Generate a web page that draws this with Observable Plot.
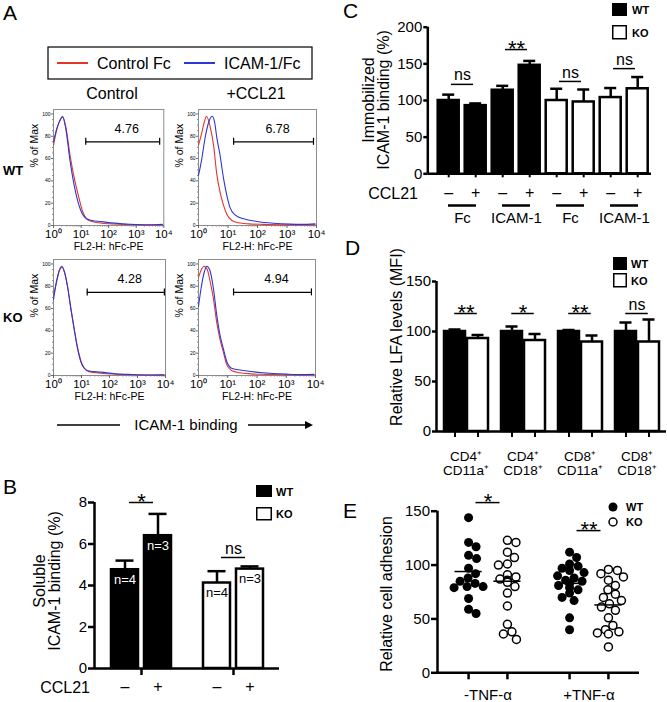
<!DOCTYPE html>
<html>
<head>
<meta charset="utf-8">
<script src="https://cdn.jsdelivr.net/npm/d3@7"></script>
<script src="https://cdn.jsdelivr.net/npm/@observablehq/plot@0.6"></script>
<style>
  html, body { margin: 0; padding: 0; background: #fff; }
  #fig { position: relative; width: 667px; height: 702px; overflow: hidden; background: #fff;
         font-family: "Liberation Sans", Arial, Helvetica, sans-serif; }
</style>
</head>
<body>
<div id="fig"></div>
<script>
// ================= DATA =================
// Panel A: flow histograms, pairs of [decade = log10(FL2-H), % of Max]
const wtControlRed  = [[0,72],[0.12,86],[0.25,95],[0.33,97],[0.45,88],[0.6,63],[0.75,43],[0.9,27],[1.05,13],[1.2,6],[1.4,3.5],[1.7,2.2],[2.0,1.5],[2.5,1],[3.0,0.6],[3.5,0.4],[3.95,0.6]];
const wtControlBlue = [[0,75],[0.12,87],[0.25,95],[0.33,98],[0.45,86],[0.6,58],[0.75,36],[0.9,20],[1.05,10],[1.2,6],[1.4,4.5],[1.7,3.5],[2.0,2.6],[2.5,1.6],[3.0,0.9],[3.5,0.6],[3.95,1]];
const wtCCL21Red    = [[0,72],[0.1,82],[0.2,93],[0.27,98],[0.4,88],[0.51,72],[0.62,46],[0.73,30],[0.85,18],[0.96,10],[1.13,4.5],[1.36,2.4],[1.7,1.5],[2.2,1],[3.0,0.6],[3.5,0.5],[3.95,0.8]];
const wtCCL21Blue   = [[0,45],[0.1,58],[0.22,78],[0.35,93],[0.47,98],[0.55,92],[0.62,79],[0.73,63],[0.85,42],[0.96,27],[1.07,16],[1.24,9.5],[1.53,6],[1.98,3.6],[2.54,2],[3.1,1.2],[3.5,1],[3.95,1.5]];
const koControlRed  = [[0,72],[0.12,85],[0.22,95],[0.3,97],[0.4,92],[0.5,80],[0.62,60],[0.74,42],[0.86,25],[0.98,13],[1.1,6.5],[1.27,3.5],[1.7,2],[2.2,1.2],[2.8,0.7],[3.5,0.4],[3.95,0.4]];
const koControlBlue = [[0,68],[0.12,86],[0.22,95],[0.3,98],[0.4,92],[0.5,80],[0.62,60],[0.74,41],[0.86,24],[0.98,12],[1.1,6.5],[1.27,4],[1.7,3],[2.2,1.6],[2.8,0.9],[3.5,0.5],[3.95,0.6]];
const koCCL21Red    = [[0,88],[0.1,95],[0.19,98],[0.3,95],[0.4,84],[0.51,69],[0.62,48],[0.73,33],[0.85,21],[0.96,10],[1.13,4.5],[1.4,2.5],[1.8,1.5],[2.3,1],[3.0,0.6],[3.5,0.4],[3.95,0.5]];
const koCCL21Blue   = [[0,62],[0.1,80],[0.2,93],[0.28,98],[0.38,95],[0.51,78],[0.62,55],[0.73,37],[0.85,24],[0.96,13],[1.13,6.5],[1.53,4.5],[2.2,2.4],[3.0,1.2],[3.5,0.8],[3.95,1]];
const histGateLo    = [14.8, 15.5, 16, 15.8];
const histGateHi    = [7080, 7900, 9100, 7250];
const histGateY     = [75, 75, 74.5, 74.5];
const histGateLabel = ["4.76", "6.78", "4.28", "4.94"];
const histXTicks    = [1, 10, 100, 1000, 10000];
const histYTicks    = [0, 20, 40, 60, 80, 100];

// Panel B: soluble ICAM-1 binding
const bGenotypes = ["WT", "KO"];
const bCCL21     = ["–", "+"];
const bMeans     = [4.76, 6.40, 4.12, 4.79];
const bErrTop    = [5.20, 7.45, 4.69, 4.92];
const bN         = ["n=4", "n=3", "n=4", "n=3"];
const bSigY      = [8.0, 5.35];
const bSigLabel  = ["*", "ns"];
const bYTicks    = [0, 2, 4, 6, 8];

// Panel C: immobilized ICAM-1 binding
const cGroups      = ["WT Fc", "WT ICAM-1", "KO Fc", "KO ICAM-1"];
const cGroupLabels = ["Fc", "ICAM-1", "Fc", "ICAM-1"];
const cCCL21       = ["–", "+"];
const cMeans       = [100, 93, 114, 148, 100, 98, 104, 116];
const cErrTop      = [108, 96, 120, 154, 116, 115, 117, 132];
const cSigY        = [122, 169.5, 126, 143.5];
const cSigLabel    = ["ns", "**", "ns", "ns"];
const cYTicks      = [0, 50, 100, 150, 200];

// Panel D: relative LFA levels
const dMarkers   = ["CD4⁺\nCD11a⁺", "CD4⁺\nCD18⁺", "CD8⁺\nCD11a⁺", "CD8⁺\nCD18⁺"];
const dGenotypes = ["WT", "KO"];
const dMeans     = [100, 93, 100, 91, 100, 89.5, 100, 89.5];
const dErrTop    = [102, 96.5, 105, 97.5, 101.5, 96, 109, 112];
const dSigY      = [118, 118, 118, 118];
const dSigLabel  = ["**", "*", "**", "ns"];
const dYTicks    = [0, 50, 100, 150];

// Panel E: relative cell adhesion
const eConditions = ["-TNF-α", "+TNF-α"];
const eWTminus = [144, 121, 117, 109, 106, 97, 92, 88, 85, 83, 80, 80, 79, 69, 59, 55];
const eKOminus = [123, 121, 112, 107, 101, 100, 91, 89, 87, 86, 85, 84, 80, 74, 62, 45, 38, 36, 31];
const eWTplus  = [112, 107, 101, 99, 97, 95, 93, 90, 88, 86, 85, 83, 81, 79, 77, 74, 70, 67, 51, 40];
const eKOplus  = [96, 95, 92, 89, 86, 81, 77, 73, 70, 67, 64, 61, 58, 51, 44, 40, 38, 37, 36, 24];
const eCenters = [94, 85, 83, 63];
const eSigY    = [158, 132];
const eSigLabel = ["*", "**"];
const eYTicks  = [0, 50, 100, 150];

// ================= HELPERS =================
const FONT = '"Liberation Sans", Arial, Helvetica, sans-serif';
const RED = "#e2362c", BLUE = "#2d37d6";
const fig = document.getElementById("fig");
const baseStyle = {fontFamily: FONT, background: "transparent", overflow: "visible", color: "#000"};
function place(node, left, top) {
  node.style.position = "absolute";
  node.style.left = left + "px";
  node.style.top = top + "px";
  fig.appendChild(node);
}
function axesOverlay(dims, domain, ticks, tickSize) {
  return Plot.plot({
    ...dims, style: baseStyle,
    x: {domain: [0, 1], axis: null},
    y: {domain},
    marks: [
      Plot.axisY({ticks, tickSize, tickPadding: 1.5, fontSize: 15, strokeWidth: 2.5, label: null}),
      Plot.ruleX([0], {strokeWidth: 2.5}),
      Plot.ruleY([0], {strokeWidth: 2.5})
    ]
  });
}
function errorMarks(rows, xKey, inset) {
  return [
    Plot.ruleX(rows, {fx: "f", x: xKey, y1: "mean", y2: "top", strokeWidth: 2.5}),
    Plot.tickY(rows, {fx: "f", x: xKey, y: "top", strokeWidth: 2.5, insetLeft: inset, insetRight: inset})
  ];
}
function barMarks(rows, xKey) {
  return [
    Plot.barY(rows.filter(d => d.geno === "WT"), {fx: "f", x: xKey, y: "mean", fill: "black", stroke: "black", strokeWidth: 2.5}),
    Plot.barY(rows.filter(d => d.geno === "KO"), {fx: "f", x: xKey, y: "mean", fill: "white", stroke: "black", strokeWidth: 2.5})
  ];
}
function sigMarks(rows, inset) {
  return [
    Plot.ruleY(rows, {fx: "f", y: "y", insetLeft: inset, insetRight: inset, strokeWidth: 1.5}),
    Plot.text(rows.filter(d => d.label.includes("*")), {fx: "f", y: "y", text: "label", fontSize: 22, dy: -1}),
    Plot.text(rows.filter(d => !d.label.includes("*")), {fx: "f", y: "y", text: "label", fontSize: 16, dy: -9})
  ];
}

// ================= PANEL A =================
const SUP = ["⁰", "¹", "²", "³", "⁴"];
const minorX = [];
for (let k = 0; k < 4; k++) for (let m = 2; m <= 9; m++) minorX.push(m * 10 ** k);
const minorY = [5, 10, 15, 25, 30, 35, 45, 50, 55, 65, 70, 75, 85, 90, 95];
const toPts = a => a.map(([dec, p]) => ({x: 10 ** dec, y: p}));
function histPlot(red, blue, gi, fr) {
  const mL = 30, mT = 3, mR = 8, mB = 34;
  const gate = {lo: histGateLo[gi], hi: histGateHi[gi], y: histGateY[gi], label: histGateLabel[gi]};
  const svg = Plot.plot({
    width: fr.r - fr.l + mL + mR, height: fr.b - fr.t + mT + mB,
    marginLeft: mL, marginTop: mT, marginRight: mR, marginBottom: mB,
    style: baseStyle,
    x: {type: "log", domain: [1, 1e4]},
    y: {domain: [0, 104]},
    marks: [
      Plot.frame({stroke: "#8c8c8c"}),
      Plot.axisY({ticks: histYTicks, tickSize: 2, tickPadding: 1, fontSize: 5, stroke: "#666", label: null}),
      Plot.axisY({ticks: minorY, tickSize: 1, tickFormat: () => "", stroke: "#888", label: null}),
      Plot.axisX({ticks: histXTicks, tickSize: 3, tickPadding: 1, fontSize: 11.5, stroke: "#666",
                  tickFormat: d => "10" + SUP[Math.round(Math.log10(d))], label: null}),
      Plot.axisX({ticks: minorX, tickSize: 1.5, tickFormat: () => "", stroke: "#888", label: null}),
      Plot.line(toPts(red), {x: "x", y: "y", stroke: RED, strokeWidth: 1.1, curve: "monotone-x"}),
      Plot.line(toPts(blue), {x: "x", y: "y", stroke: BLUE, strokeWidth: 1.1, curve: "monotone-x"}),
      Plot.ruleY([gate], {y: "y", x1: "lo", x2: "hi", strokeWidth: 1.2}),
      Plot.ruleX([gate.lo, gate.hi], {x: d => d, y1: gate.y, y2: gate.y, insetTop: -3.5, insetBottom: -3.5, strokeWidth: 1.2}),
      Plot.text([gate], {x: d => Math.sqrt(d.lo * d.hi), y: "y", text: "label", dy: -13, dx: 4, fontSize: 12.5}),
      Plot.text(["FL2-H: hFc-PE"], {frameAnchor: "bottom", dy: 24.5, fontSize: 10.5}),
      Plot.text(["% of Max"], {frameAnchor: "left", dx: -19, rotate: -90, fontSize: 10.5})
    ]
  });
  place(svg, fr.l - mL, fr.t - mT);
}
histPlot(wtControlRed, wtControlBlue, 0, {l: 52.7, t: 109, r: 163, b: 225});
histPlot(wtCCL21Red, wtCCL21Blue, 1, {l: 198, t: 109, r: 316, b: 225});
histPlot(koControlRed, koControlBlue, 2, {l: 53, t: 259, r: 165, b: 375});
histPlot(koCCL21Red, koCCL21Blue, 3, {l: 198, t: 259, r: 315, b: 375});

// ================= PANEL B =================
{
  const rows = bMeans.map((m, i) => ({f: bGenotypes[Math.floor(i / 2)], geno: bGenotypes[Math.floor(i / 2)],
    ccl: bCCL21[i % 2], mean: m, top: bErrTop[i], n: bN[i]}));
  const sig = bSigY.map((y, i) => ({f: bGenotypes[i], y, label: bSigLabel[i]}));
  const dims = {width: 300, height: 262, marginLeft: 94, marginRight: 21, marginTop: 62, marginBottom: 34};
  place(Plot.plot({
    ...dims, style: baseStyle,
    fx: {domain: bGenotypes, paddingInner: 0, paddingOuter: 0},
    x: {domain: bCCL21, paddingInner: 0.18, paddingOuter: 0.47},
    y: {domain: [0, 8], axis: null},
    marks: [
      ...errorMarks(rows, "ccl", 4.5),
      ...barMarks(rows, "ccl"),
      Plot.text(rows.filter(d => d.geno === "WT"), {fx: "f", x: "ccl", y: "mean", text: "n", dy: 10, fill: "white", fontSize: 13}),
      Plot.text(rows.filter(d => d.geno === "KO"), {fx: "f", x: "ccl", y: "mean", text: "n", dy: 10, fill: "black", fontSize: 13}),
      ...sigMarks(sig, 34),
      Plot.axisX({tickSize: 0, tickPadding: 12.5, fontSize: 16, label: null}),
      Plot.axisFx({anchor: "bottom", tickSize: 7, strokeWidth: 2.5, tickFormat: () => "", label: null})
    ]
  }), 0, 440);
  place(axesOverlay(dims, [0, 8], bYTicks, 6), 0, 440);
}

// ================= PANEL C =================
{
  const rows = cMeans.map((m, i) => ({f: cGroups[Math.floor(i / 2)], geno: i < 4 ? "WT" : "KO",
    ccl: cCCL21[i % 2], mean: m, top: cErrTop[i]}));
  const sig = cSigY.map((y, i) => ({f: cGroups[i], y, label: cSigLabel[i]}));
  const under = cGroups.map(g => ({f: g, y: 0}));
  const dims = {width: 327, height: 240, marginLeft: 87.3, marginRight: 16, marginTop: 26.7, marginBottom: 66.7};
  place(Plot.plot({
    ...dims, style: baseStyle,
    fx: {domain: cGroups, paddingInner: 0, paddingOuter: 0.041, align: 1},
    x: {domain: cCCL21, paddingInner: 0.23, paddingOuter: 0.115},
    y: {domain: [0, 200], axis: null},
    marks: [
      ...errorMarks(rows, "ccl", 4.5),
      ...barMarks(rows, "ccl"),
      ...sigMarks(sig, 16),
      Plot.ruleY(under, {fx: "f", y: "y", dy: 31.7, insetLeft: 13, insetRight: 13, strokeWidth: 2.5}),
      Plot.axisX({tickSize: 4, strokeWidth: 2, tickPadding: 9, fontSize: 16, label: null}),
      Plot.axisFx({anchor: "bottom", tickSize: 0, tickPadding: 39, fontSize: 15, label: null,
                   tickFormat: d => cGroupLabels[cGroups.indexOf(d)]})
    ]
  }), 340, 0);
  place(axesOverlay(dims, [0, 200], cYTicks, 4), 340, 0);
}

// ================= PANEL D =================
{
  const rows = dMeans.map((m, i) => ({f: dMarkers[Math.floor(i / 2)], geno: dGenotypes[i % 2],
    mean: m, top: dErrTop[i]}));
  const sig = dSigY.map((y, i) => ({f: dMarkers[i], y, label: dSigLabel[i]}));
  const dims = {width: 327, height: 240, marginLeft: 96, marginRight: 1, marginTop: 31, marginBottom: 59};
  place(Plot.plot({
    ...dims, style: baseStyle,
    fx: {domain: dMarkers, paddingInner: 0, paddingOuter: 0},
    x: {domain: dGenotypes, paddingInner: 0.106, paddingOuter: 0.277},
    y: {domain: [0, 150], axis: null},
    marks: [
      ...errorMarks(rows, "geno", 4.5),
      ...barMarks(rows, "geno"),
      ...sigMarks(sig, 17.25),
      Plot.axisX({tickSize: 6, strokeWidth: 2, tickFormat: () => "", label: null}),
      Plot.axisFx({anchor: "bottom", tickSize: 0, tickPadding: 19, fontSize: 13.5, lineHeight: 1.05, label: null})
    ]
  }), 340, 250);
  place(axesOverlay(dims, [0, 150], dYTicks, 4), 340, 250);
}

// ================= PANEL E =================
{
  const dims = {width: 327, height: 222, marginLeft: 97, marginRight: 28, marginTop: 30.7, marginBottom: 29.7};
  const xDomain = [-0.8, 1.8];
  const facetW = (dims.width - dims.marginLeft - dims.marginRight) / 2;
  const pxPerX = facetW / (xDomain[1] - xDomain[0]);
  const pxPerY = (dims.height - dims.marginTop - dims.marginBottom) / 150;
  function swarm(values, diam) {
    const order = d3.range(values.length).sort((a, b) => values[b] - values[a]);
    const placed = [], off = new Array(values.length);
    for (const i of order) {
      const y = values[i] * pxPerY;
      let best = 0;
      for (let k = 0; k <= 60; k++) {
        const c = (k % 2 ? 1 : -1) * Math.ceil(k / 2) * 0.5;
        if (placed.every(p => Math.hypot(p.x - c, p.y - y) >= diam)) { best = c; break; }
      }
      placed.push({x: best, y});
      off[i] = best / pxPerX;
    }
    return off;
  }
  const groups = [
    {f: eConditions[0], geno: 0, vals: eWTminus},
    {f: eConditions[0], geno: 1, vals: eKOminus},
    {f: eConditions[1], geno: 0, vals: eWTplus},
    {f: eConditions[1], geno: 1, vals: eKOplus}
  ];
  const pts = groups.flatMap(g => {
    const off = swarm(g.vals, 8.6);
    return g.vals.map((v, i) => ({f: g.f, geno: g.geno, v, x: g.geno + off[i]}));
  });
  const centers = groups.map((g, i) => ({f: g.f, geno: g.geno, m: eCenters[i]}));
  const sig = eSigY.map((y, i) => ({f: eConditions[i], y, label: eSigLabel[i]}));
  place(Plot.plot({
    ...dims, style: baseStyle,
    fx: {domain: eConditions, paddingInner: 0, paddingOuter: 0},
    x: {domain: xDomain},
    y: {domain: [0, 150], axis: null},
    marks: [
      Plot.dot(pts.filter(d => d.geno === 0), {fx: "f", x: "x", y: "v", r: 4.5, fill: "black", stroke: "none"}),
      Plot.dot(pts.filter(d => d.geno === 1), {fx: "f", x: "x", y: "v", r: 4, fill: "white", stroke: "black", strokeWidth: 1.5}),
      Plot.ruleY(centers, {fx: "f", y: "m", x1: d => d.geno - 0.35, x2: d => d.geno + 0.35, strokeWidth: 1.5}),
      ...sigMarks(sig, 38.5),
      Plot.axisX({ticks: [0, 1], tickSize: 7, strokeWidth: 2.5, tickFormat: () => "", label: null}),
      Plot.axisFx({anchor: "bottom", tickSize: 0, tickPadding: 16.5, fontSize: 15, label: null})
    ]
  }), 340, 480);
  place(axesOverlay(dims, [0, 150], eYTicks, 6), 340, 480);
}

// ================= STATIC ANNOTATIONS =================
function rotText(x, y, s, size) {
  return `<text transform="translate(${x},${y}) rotate(-90)" text-anchor="middle" dy="0.35em" font-size="${size}">${s}</text>`;
}
const ann = `
<svg xmlns="http://www.w3.org/2000/svg" width="667" height="702" style="position:absolute;left:0;top:0;overflow:visible;font-family:${FONT.replace(/"/g, "'")}">
  <g font-size="21"><text x="3" y="20">A</text><text x="3" y="494">B</text>
  <text x="343" y="18">C</text><text x="345" y="255">D</text><text x="343" y="518">E</text></g>
  <rect x="48" y="47" width="264" height="32" fill="none" stroke="black" stroke-width="1.2"/>
  <line x1="57" x2="88" y1="63" y2="63" stroke="${RED}" stroke-width="2"/>
  <text x="97" y="68.5" font-size="16">Control Fc</text>
  <line x1="184" x2="215" y1="63" y2="63" stroke="${BLUE}" stroke-width="2"/>
  <text x="224" y="68.5" font-size="16">ICAM-1/Fc</text>
  <text x="112" y="99" font-size="16" text-anchor="middle">Control</text>
  <text x="256" y="99" font-size="16" text-anchor="middle">+CCL21</text>
  <text x="3" y="175" font-size="13" font-weight="bold">WT</text>
  <text x="3" y="322" font-size="13" font-weight="bold">KO</text>
  <line x1="57" x2="120" y1="425" y2="425" stroke="black" stroke-width="1.5"/>
  <text x="186" y="430" font-size="15" text-anchor="middle">ICAM-1 binding</text>
  <line x1="248" x2="306" y1="425" y2="425" stroke="black" stroke-width="1.5"/>
  <path d="M305,421 L313,425 L305,429 Z" fill="black"/>

  <rect x="256" y="485" width="16" height="12" fill="black"/>
  <rect x="256.75" y="507.75" width="14.5" height="12" fill="white" stroke="black" stroke-width="1.5"/>
  <text x="276" y="495.5" font-size="11" font-weight="bold">WT</text>
  <text x="276" y="518" font-size="11" font-weight="bold">KO</text>
  <text x="90" y="693" font-size="16" text-anchor="end">CCL21</text>
  ${rotText(39, 581, "Soluble", 16)}
  ${rotText(54, 581, "ICAM-1 binding (%)", 16)}

  <rect x="612" y="3" width="15" height="13" fill="black"/>
  <rect x="612.75" y="25.75" width="13.5" height="13" fill="white" stroke="black" stroke-width="1.5"/>
  <text x="632" y="14" font-size="11" font-weight="bold">WT</text>
  <text x="632" y="37" font-size="11" font-weight="bold">KO</text>
  <text x="418" y="199" font-size="16" text-anchor="end">CCL21</text>
  ${rotText(368, 100, "Immobilized", 16)}
  ${rotText(383.5, 100, "ICAM-1 binding (%)", 16)}

  <rect x="613" y="257" width="14" height="13" fill="black"/>
  <rect x="613.75" y="273.75" width="12.5" height="13" fill="white" stroke="black" stroke-width="1.5"/>
  <text x="631" y="268" font-size="11" font-weight="bold">WT</text>
  <text x="631" y="284.5" font-size="11" font-weight="bold">KO</text>
  ${rotText(396, 337, "Relative LFA levels (MFI)", 16)}

  <circle cx="613" cy="507" r="4.5" fill="black"/>
  <circle cx="613" cy="522" r="4" fill="white" stroke="black" stroke-width="1.5"/>
  <text x="626" y="511" font-size="11" font-weight="bold">WT</text>
  <text x="626" y="526" font-size="11" font-weight="bold">KO</text>
  ${rotText(386, 594, "Relative cell adhesion", 16)}
</svg>`;
fig.insertAdjacentHTML("beforeend", ann);
</script>
</body>
</html>
